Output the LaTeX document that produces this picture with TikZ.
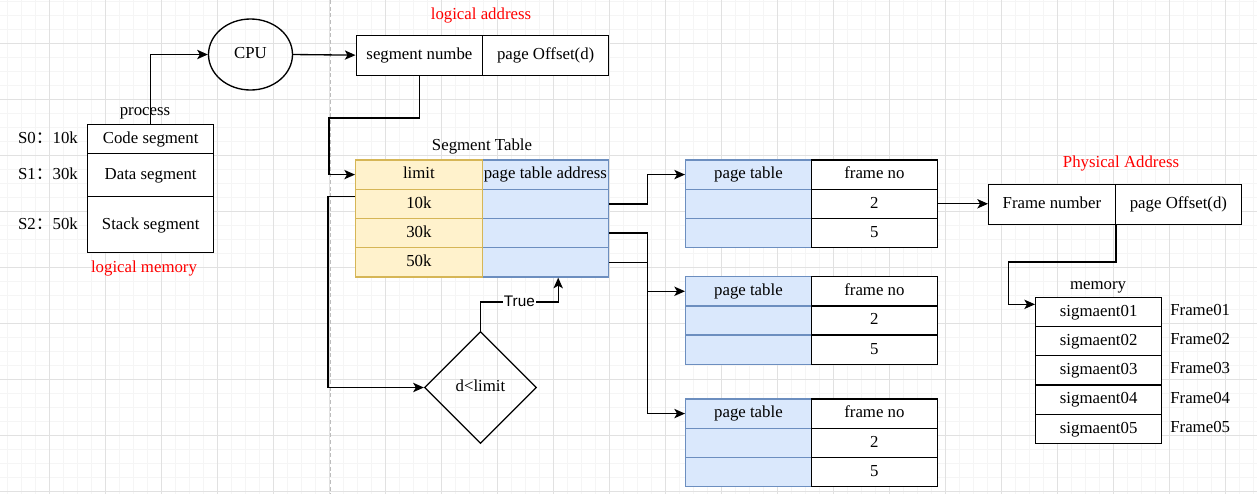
\documentclass[tikz,border=0pt]{standalone}
\usepackage{fontspec}
\setmainfont{Liberation Serif}
\setsansfont{Liberation Sans}
\newfontfamily\cjk{Noto Sans CJK SC}
\usetikzlibrary{positioning, shapes.geometric, arrows.meta, calc}
\newcommand{\px}{0.75pt}
\newcommand{\boxFont}{\fontsize{12.6}{15}\selectfont}
\newcommand{\edgeFont}{\fontsize{11.5}{13}\sffamily\selectfont}
\definecolor{gridMajor}{HTML}{E1E1E1}
\definecolor{gridMinor}{HTML}{F5F5F5}
\definecolor{dashGray}{HTML}{BDBDBD}
\definecolor{blueFill}{HTML}{DAE8FC}
\definecolor{blueLine}{HTML}{6C8EBF}
\definecolor{yellowFill}{HTML}{FFF2CC}
\definecolor{yellowLine}{HTML}{D6B656}
\definecolor{noteRed}{HTML}{FF0000}
\tikzstyle{diagram} = [x=\px, y=-\px, every node/.style={font=\boxFont, text height=0.86em, text depth=0.2em}]
\tikzstyle{cellStyle} = [draw=black, fill=white, line width=1pt, anchor=north west, inner sep=0pt]
\tikzstyle{blueCell} = [fill=blueFill, draw=blueLine]
\tikzstyle{yellowCell} = [fill=yellowFill, draw=yellowLine]
\tikzstyle{arrowStyle} = [-{Stealth[length=8pt, width=7pt, inset=2pt]}, line width=1pt]
\tikzstyle{redNote} = [text=noteRed]
\tikzstyle{trueLabel} = [fill=white, font=\edgeFont, inner sep=1pt]
\tikzstyle{gridMajorLine} = [color=gridMajor, line width=0.75pt]
\tikzstyle{gridMinorLine} = [color=gridMinor, line width=0.75pt]
\tikzstyle{dividerLine} = [color=dashGray, line width=0.75pt, dash pattern=on 3pt off 2pt]
\newcommand{\cellBox}[6]{\node [cellStyle, #5, minimum width=#3*\px, minimum height=#4*\px] (#1) at (#2) {#6};}
\newcommand{\pageTable}[2]{
  \cellBox{#1Head}{685,#2}{125.5}{29.2}{blueCell}{page table}
  \cellBox{#1Frame}{810.5,#2}{126.5}{29.2}{}{frame no}
  \foreach \val [count=\i] in {2,5} {
    \cellBox{#1Page\i}{685,#2+\i*29.2}{125.5}{29.2}{blueCell}{}
    \cellBox{#1No\i}{810.5,#2+\i*29.2}{126.5}{29.2}{}{\val}
  }
}

\begin{document}
\begin{tikzpicture}[diagram]
    \fill [white] (0,0) rectangle (1257,494);
    \useasboundingbox (0,0) rectangle (1257,494);
    \foreach \gx in {7,21,...,1253} {\draw [gridMinorLine] (\gx,0) -- (\gx,494);}
    \foreach \gy in {1,15,...,491} {\draw [gridMinorLine] (0,\gy) -- (1257,\gy);}
    \foreach \gx in {49,105,...,1225} {\draw [gridMajorLine] (\gx,0) -- (\gx,494);}
    \foreach \gy in {43,99,...,491} {\draw [gridMajorLine] (0,\gy) -- (1257,\gy);}
    \draw [dividerLine] (330.5,0) -- (330.5,494);

    \node (processLabel) at (145,111) {process};
    \cellBox{codeSeg}{87,123.5}{126}{29.5}{}{Code segment}
    \cellBox{dataSeg}{87,153}{126}{43}{}{Data segment}
    \cellBox{stackSeg}{87,196}{126}{56}{}{Stack segment}
    \node [left=3.3pt of codeSeg] (sizeCode) {S0{\cjk ：}10k};
    \node [left=3.3pt of dataSeg] (sizeData) {S1{\cjk ：}30k};
    \node [left=3.3pt of stackSeg] (sizeStack) {S2{\cjk ：}50k};
    \node [redNote] (memNote) at (144,268) {logical memory};

    \node [draw, ellipse, line width=1pt, inner sep=0pt, minimum width=84*\px, minimum height=71*\px] (cpu) at (250.5,54.5) {CPU};

    \node [redNote] (logNote) at (481,15) {logical address};
    \cellBox{segNum}{355.5,34.5}{126.5}{40}{}{segment numbe}
    \cellBox{pageOff}{482,34.5}{126}{40}{}{page Offset(d)}

    \node (segTitle) at (482,146) {Segment Table};
    \cellBox{addrHead}{481.5,159.3}{126.5}{29.25}{blueCell}{page table address}
    \cellBox{limHead}{355,159.3}{126.5}{29.25}{yellowCell}{limit}
    \foreach \val [count=\i] in {10k,30k,50k} {
      \cellBox{addr\val}{481.5,159.3+\i*29.25}{126.5}{29.25}{blueCell}{}
      \cellBox{lim\val}{355,159.3+\i*29.25}{126.5}{29.25}{yellowCell}{\val}
    }

    \node [draw, diamond, line width=1pt, inner sep=0pt, minimum width=112*\px, minimum height=112*\px] (cond) at (480.5,387.5) {d<limit};

    \pageTable{pt1}{159.3}
    \pageTable{pt2}{276}
    \pageTable{pt3}{398.3}

    \node [redNote] (physNote) at (1121,163) {Physical Address};
    \cellBox{frameNum}{988,183.5}{126.5}{40}{}{Frame number}
    \cellBox{physOff}{1114.5,183.5}{126.5}{40}{}{page Offset(d)}

    \node (memTitle) at (1098,285) {memory};
    \foreach \i in {1,...,5} {
      \cellBox{mem\i}{1035,296.7+\i*29.2-29.2}{126}{29.2}{}{sigmaent0\i}
      \node [anchor=west, inner sep=0pt] (frame\i) at ([xshift=5.8pt, yshift=0.6pt]mem\i.east) {Frame0\i};
    }

    \draw [arrowStyle] (codeSeg.north) |- (cpu.west);
    \draw [arrowStyle] (cpu.east) -- (segNum.west);
    \draw [arrowStyle] (segNum.south) -- ++(0,42) -- ++(-90.5,0) |- (limHead.west);
    \draw [arrowStyle] ($(lim10k.north west)!0.25!(lim10k.south west)$) -- ++(-27,0) |- (cond.west);
    \draw [arrowStyle] (cond.north) -- ++(0,-29) -| node [trueLabel, pos=0.25] (trueText) {True} ($(addr50k.south west)!0.6!(addr50k.south east)$);
    \draw [arrowStyle] (addr10k.east) -- ++(38,0) |- (pt1Head.west);
    \draw [arrowStyle] (addr30k.east) -- ++(38,0) |- (pt2Head.west);
    \draw [arrowStyle] (addr50k.east) -- ++(38,0) |- (pt3Head.west);
    \draw [arrowStyle] (pt1No1.east) -- (pt1No1.east -| frameNum.west);
    \draw [arrowStyle] (frameNum.south east) -- ++(0,37) -- ++(-107.5,0) |- ($(mem1.north west)!0.25!(mem1.south west)$);
\end{tikzpicture}
\end{document}
